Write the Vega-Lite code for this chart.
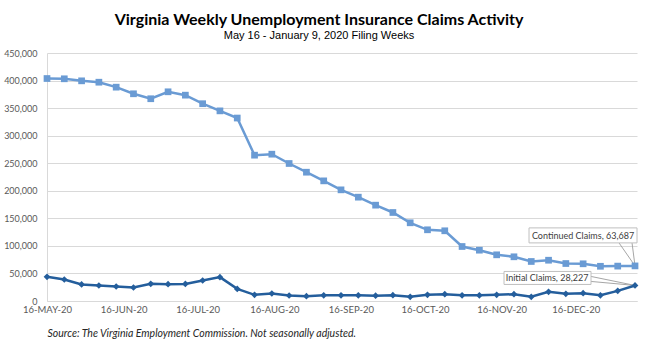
{
  "$schema": "https://vega.github.io/schema/vega-lite/v6.json",
  "width": 590,
  "height": 248,
  "autosize": {"type": "none"},
  "padding": {"left": 47, "top": 53, "right": 13, "bottom": 41},
  "background": "white",
  "title": {
    "text": "Virginia Weekly Unemployment Insurance Claims Activity",
    "subtitle": "May 16 - January 9, 2020 Filing Weeks",
    "anchor": "middle",
    "dx": -23,
    "offset": 8,
    "font": "Lato",
    "fontSize": 16,
    "fontWeight": "bold",
    "color": "#000000",
    "subtitleFont": "Liberation Sans",
    "subtitleFontSize": 11,
    "subtitleColor": "#000000",
    "subtitlePadding": 2
  },
  "config": {
    "view": {"stroke": null},
    "axis": {"labelFont": "Lato", "labelColor": "#595959", "domainColor": "#D9D9D9", "ticks": false, "tickSize": 0, "gridColor": "#D9D9D9"}
  },
  "datasets": {
    "claims": [
      {"date": "2020-05-16", "series": "Continued Claims", "value": 403700},
      {"date": "2020-05-23", "series": "Continued Claims", "value": 403200},
      {"date": "2020-05-30", "series": "Continued Claims", "value": 399500},
      {"date": "2020-06-06", "series": "Continued Claims", "value": 397000},
      {"date": "2020-06-13", "series": "Continued Claims", "value": 388000},
      {"date": "2020-06-20", "series": "Continued Claims", "value": 376000},
      {"date": "2020-06-27", "series": "Continued Claims", "value": 367000},
      {"date": "2020-07-04", "series": "Continued Claims", "value": 379600},
      {"date": "2020-07-11", "series": "Continued Claims", "value": 373500},
      {"date": "2020-07-18", "series": "Continued Claims", "value": 358000},
      {"date": "2020-07-25", "series": "Continued Claims", "value": 345000},
      {"date": "2020-08-01", "series": "Continued Claims", "value": 332000},
      {"date": "2020-08-08", "series": "Continued Claims", "value": 264600},
      {"date": "2020-08-15", "series": "Continued Claims", "value": 266400},
      {"date": "2020-08-22", "series": "Continued Claims", "value": 249500},
      {"date": "2020-08-29", "series": "Continued Claims", "value": 233700},
      {"date": "2020-09-05", "series": "Continued Claims", "value": 218000},
      {"date": "2020-09-12", "series": "Continued Claims", "value": 201700},
      {"date": "2020-09-19", "series": "Continued Claims", "value": 188400},
      {"date": "2020-09-26", "series": "Continued Claims", "value": 173900},
      {"date": "2020-10-03", "series": "Continued Claims", "value": 160600},
      {"date": "2020-10-10", "series": "Continued Claims", "value": 141900},
      {"date": "2020-10-17", "series": "Continued Claims", "value": 129200},
      {"date": "2020-10-24", "series": "Continued Claims", "value": 127400},
      {"date": "2020-10-31", "series": "Continued Claims", "value": 98900},
      {"date": "2020-11-07", "series": "Continued Claims", "value": 92200},
      {"date": "2020-11-14", "series": "Continued Claims", "value": 83800},
      {"date": "2020-11-21", "series": "Continued Claims", "value": 80200},
      {"date": "2020-11-28", "series": "Continued Claims", "value": 71700},
      {"date": "2020-12-05", "series": "Continued Claims", "value": 74000},
      {"date": "2020-12-12", "series": "Continued Claims", "value": 68000},
      {"date": "2020-12-19", "series": "Continued Claims", "value": 67500},
      {"date": "2020-12-26", "series": "Continued Claims", "value": 63000},
      {"date": "2021-01-02", "series": "Continued Claims", "value": 63300},
      {"date": "2021-01-09", "series": "Continued Claims", "value": 63687},
      {"date": "2020-05-16", "series": "Initial Claims", "value": 43900},
      {"date": "2020-05-23", "series": "Initial Claims", "value": 39000},
      {"date": "2020-05-30", "series": "Initial Claims", "value": 30000},
      {"date": "2020-06-06", "series": "Initial Claims", "value": 28100},
      {"date": "2020-06-13", "series": "Initial Claims", "value": 26300},
      {"date": "2020-06-20", "series": "Initial Claims", "value": 24500},
      {"date": "2020-06-27", "series": "Initial Claims", "value": 31200},
      {"date": "2020-07-04", "series": "Initial Claims", "value": 30500},
      {"date": "2020-07-11", "series": "Initial Claims", "value": 31000},
      {"date": "2020-07-18", "series": "Initial Claims", "value": 37200},
      {"date": "2020-07-25", "series": "Initial Claims", "value": 43300},
      {"date": "2020-08-01", "series": "Initial Claims", "value": 22000},
      {"date": "2020-08-08", "series": "Initial Claims", "value": 11200},
      {"date": "2020-08-15", "series": "Initial Claims", "value": 13600},
      {"date": "2020-08-22", "series": "Initial Claims", "value": 10000},
      {"date": "2020-08-29", "series": "Initial Claims", "value": 8800},
      {"date": "2020-09-05", "series": "Initial Claims", "value": 10300},
      {"date": "2020-09-12", "series": "Initial Claims", "value": 10300},
      {"date": "2020-09-19", "series": "Initial Claims", "value": 10300},
      {"date": "2020-09-26", "series": "Initial Claims", "value": 9700},
      {"date": "2020-10-03", "series": "Initial Claims", "value": 10600},
      {"date": "2020-10-10", "series": "Initial Claims", "value": 7600},
      {"date": "2020-10-17", "series": "Initial Claims", "value": 11200},
      {"date": "2020-10-24", "series": "Initial Claims", "value": 12400},
      {"date": "2020-10-31", "series": "Initial Claims", "value": 10300},
      {"date": "2020-11-07", "series": "Initial Claims", "value": 10300},
      {"date": "2020-11-14", "series": "Initial Claims", "value": 11200},
      {"date": "2020-11-21", "series": "Initial Claims", "value": 12400},
      {"date": "2020-11-28", "series": "Initial Claims", "value": 7600},
      {"date": "2020-12-05", "series": "Initial Claims", "value": 16600},
      {"date": "2020-12-12", "series": "Initial Claims", "value": 13000},
      {"date": "2020-12-19", "series": "Initial Claims", "value": 14200},
      {"date": "2020-12-26", "series": "Initial Claims", "value": 10300},
      {"date": "2021-01-02", "series": "Initial Claims", "value": 18400},
      {"date": "2021-01-09", "series": "Initial Claims", "value": 28227}
    ],
    "labels": [
      {"date": "2021-01-09", "series": "Continued Claims", "value": 63687, "label": "Continued Claims, 63,687"},
      {"date": "2021-01-09", "series": "Initial Claims", "value": 28227, "label": "Initial Claims, 28,227"}
    ]
  },
  "data": {"name": "claims"},
  "encoding": {
    "x": {
      "field": "date",
      "type": "temporal",
      "scale": {"type": "utc", "domain": [1589587200000, 1610219520000]},
      "axis": {
        "values": [1589587200000, 1592265600000, 1594857600000, 1597536000000, 1600214400000, 1602806400000, 1605484800000, 1608076800000],
        "labelExpr": "upper(utcFormat(datum.value, '%d-%b-%y'))",
        "labelFontSize": 9.5,
        "labelPadding": 3,
        "labelFlush": false,
        "labelOverlap": false,
        "grid": false,
        "title": "Source: The Virginia Employment Commission. Not seasonally adjusted.",
        "titleFont": "Lato",
        "titleFontSize": 10.5,
        "titleFontStyle": "italic",
        "titleFontWeight": "normal",
        "titleColor": "#262626",
        "titleAlign": "left",
        "titleAnchor": "start",
        "titleBaseline": "alphabetic",
        "titleX": 0,
        "titleY": 35
      }
    },
    "y": {
      "field": "value",
      "type": "quantitative",
      "scale": {"domain": [0, 450000]},
      "axis": {
        "values": [0, 50000, 100000, 150000, 200000, 250000, 300000, 350000, 400000, 450000],
        "format": ",.0f",
        "labelFontSize": 9,
        "labelPadding": 10,
        "title": null,
        "grid": true
      }
    }
  },
  "layer": [
    {
      "data": {"name": "labels"},
      "transform": [{"filter": "datum.series == 'Continued Claims'"}],
      "mark": {"type": "rule", "color": "#A6A6A6", "strokeWidth": 1, "xOffset": -16, "yOffset": -23},
      "encoding": {"x2": {"field": "date"}, "y2": {"field": "value"}}
    },
    {
      "data": {"name": "labels"},
      "transform": [{"filter": "datum.series == 'Continued Claims'"}],
      "mark": {"type": "rule", "color": "#A6A6A6", "strokeWidth": 1, "xOffset": -3, "yOffset": -23},
      "encoding": {"x2": {"field": "date"}, "y2": {"field": "value"}}
    },
    {
      "data": {"name": "labels"},
      "transform": [{"filter": "datum.series == 'Initial Claims'"}],
      "mark": {"type": "rule", "color": "#A6A6A6", "strokeWidth": 1, "xOffset": -44, "yOffset": -9},
      "encoding": {"x2": {"field": "date"}, "y2": {"field": "value"}}
    },
    {
      "data": {"name": "labels"},
      "transform": [{"filter": "datum.series == 'Initial Claims'"}],
      "mark": {"type": "rule", "color": "#A6A6A6", "strokeWidth": 1, "xOffset": -44, "yOffset": -4},
      "encoding": {"x2": {"field": "date"}, "y2": {"field": "value"}}
    },
    {
      "mark": {"type": "line", "strokeWidth": 2.5},
      "encoding": {
        "color": {"field": "series", "type": "nominal", "scale": {"domain": ["Continued Claims", "Initial Claims"], "range": ["#6A9BD4", "#245E9C"]}, "legend": null}
      }
    },
    {
      "mark": {"type": "point", "filled": true, "opacity": 1, "size": 45},
      "encoding": {
        "color": {"field": "series", "type": "nominal", "scale": {"domain": ["Continued Claims", "Initial Claims"], "range": ["#6A9BD4", "#245E9C"]}, "legend": null},
        "shape": {"field": "series", "type": "nominal", "scale": {"domain": ["Continued Claims", "Initial Claims"], "range": ["square", "diamond"]}, "legend": null}
      }
    },
    {
      "data": {"name": "labels"},
      "transform": [{"filter": "datum.series == 'Continued Claims'"}],
      "mark": {"type": "rect", "fill": "white", "stroke": "#BFBFBF", "strokeWidth": 1, "xOffset": -106, "x2Offset": 2, "yOffset": -38, "y2Offset": -23},
      "encoding": {"x2": {"field": "date"}, "y2": {"field": "value"}}
    },
    {
      "data": {"name": "labels"},
      "transform": [{"filter": "datum.series == 'Initial Claims'"}],
      "mark": {"type": "rect", "fill": "white", "stroke": "#BFBFBF", "strokeWidth": 1, "xOffset": -131, "x2Offset": -44, "yOffset": -14, "y2Offset": -1},
      "encoding": {"x2": {"field": "date"}, "y2": {"field": "value"}}
    },
    {
      "data": {"name": "labels"},
      "transform": [{"filter": "datum.series == 'Continued Claims'"}],
      "mark": {"type": "text", "font": "Lato", "fontSize": 9, "color": "#404040", "align": "center", "baseline": "middle", "dx": -52, "dy": -30},
      "encoding": {"text": {"field": "label"}}
    },
    {
      "data": {"name": "labels"},
      "transform": [{"filter": "datum.series == 'Initial Claims'"}],
      "mark": {"type": "text", "font": "Lato", "fontSize": 9, "color": "#404040", "align": "center", "baseline": "middle", "dx": -88, "dy": -7},
      "encoding": {"text": {"field": "label"}}
    }
  ]
}
